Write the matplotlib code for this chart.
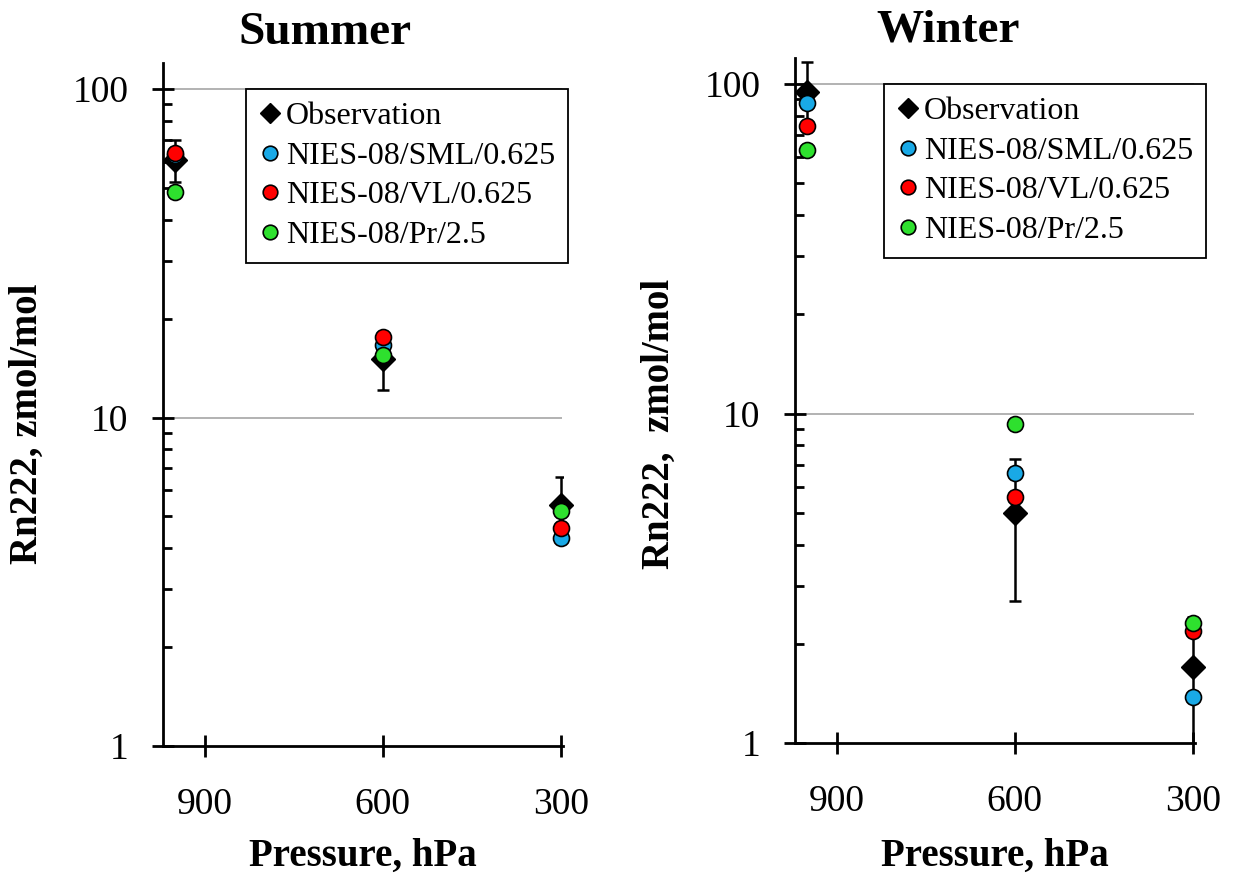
import matplotlib
matplotlib.use("Agg")
import matplotlib.pyplot as plt
from matplotlib.ticker import LogLocator, FixedLocator, NullFormatter, FixedFormatter
from matplotlib.lines import Line2D
import numpy as np

plt.rcParams['font.family'] = ['Liberation Serif', 'DejaVu Serif']

# ---- data ----
pressure = [950, 600, 300]
pressure_ticks = [900, 600, 300]

summer_obs = [61, 15.1, 5.4]
summer_obs_err = [9, 3.0, 1.2]
summer_sml = [63, 16.6, 4.3]
summer_vl = [64, 17.6, 4.6]
summer_pr = [48.6, 15.5, 5.2]

winter_obs = [94.6, 5.0, 1.7]
winter_obs_err = [22, 2.3, 0.72]
winter_sml = [87.5, 6.6, 1.38]
winter_vl = [74.6, 5.6, 2.19]
winter_pr = [63, 9.3, 2.31]

series_labels = ["Observation", "NIES-08/SML/0.625", "NIES-08/VL/0.625", "NIES-08/Pr/2.5"]
colors = {"sml": "#19a9e6", "vl": "#ff0000", "pr": "#2ee02e"}

fig = plt.figure(figsize=(12.4, 8.75), dpi=100)

W, H = 1240, 875


def make_axes(px_left, px_right, px_top, px_bottom):
    return fig.add_axes([px_left / W, 1 - px_bottom / H,
                         (px_right - px_left) / W, (px_bottom - px_top) / H])


def draw(ax, obs, err, sml, vl, pr, ylabel, legend_xy, xlabel_y, ylabel_xy):
    ax.set_yscale('log')
    ax.set_ylim(1, 120)
    ax.set_xlim(970, 296)
    ax.hlines([10, 100], 970, 297, color='#a6a6a6', lw=1.2, zorder=0)
    ax.errorbar(pressure, obs, yerr=err, fmt='none', ecolor='black',
                elinewidth=1.8, capsize=4.5, capthick=1.8, zorder=2)
    ax.plot(pressure, obs, 'D', ms=12.5, color='black', zorder=2.5, clip_on=False)
    ax.plot(pressure, sml, 'o', ms=11.5, mfc=colors['sml'], mec='black', mew=1.2,
            zorder=3, clip_on=False)
    ax.plot(pressure, vl, 'o', ms=11.5, mfc=colors['vl'], mec='black', mew=1.2,
            zorder=4, clip_on=False)
    ax.plot(pressure, pr, 'o', ms=11.5, mfc=colors['pr'], mec='black', mew=1.2,
            zorder=5, clip_on=False)

    for s in ('top', 'right'):
        ax.spines[s].set_visible(False)
    for s in ('left', 'bottom'):
        ax.spines[s].set_linewidth(2)

    ax.xaxis.set_major_locator(FixedLocator(pressure_ticks))
    ax.xaxis.set_major_formatter(FixedFormatter([str(p) for p in pressure_ticks]))
    ax.yaxis.set_major_locator(FixedLocator([1, 10, 100]))
    ax.yaxis.set_major_formatter(FixedFormatter(['1', '10', '100']))
    ax.yaxis.set_minor_locator(LogLocator(base=10, subs=np.arange(2, 10)))
    ax.yaxis.set_minor_formatter(NullFormatter())
    ax.tick_params(axis='both', which='major', direction='inout', length=16,
                   width=2, labelsize=27, color='black')
    ax.tick_params(axis='x', which='major', pad=22)
    ax.tick_params(axis='y', which='major', pad=17)
    ax.tick_params(axis='y', which='minor', direction='in', length=6.5, width=2)
    ax.tick_params(axis='x', which='minor', bottom=False)

    ax.set_xlabel("Pressure, hPa", fontsize=28, fontweight='bold')
    ax.xaxis.set_label_coords(0.5, xlabel_y)
    ax.set_ylabel(ylabel, fontsize=28, fontweight='bold')
    ax.yaxis.set_label_coords(*ylabel_xy)

    handles = [
        Line2D([], [], ls='none', marker='D', ms=10, color='black'),
        Line2D([], [], ls='none', marker='o', ms=10.5, mfc=colors['sml'], mec='black', mew=1.2),
        Line2D([], [], ls='none', marker='o', ms=10.5, mfc=colors['vl'], mec='black', mew=1.2),
        Line2D([], [], ls='none', marker='o', ms=10.5, mfc=colors['pr'], mec='black', mew=1.2),
    ]
    leg = ax.legend(handles, series_labels, loc='upper left', bbox_to_anchor=legend_xy,
                    bbox_transform=fig.transFigure, borderaxespad=0,
                    fontsize=23, frameon=True, fancybox=False, framealpha=1,
                    edgecolor='black', handlelength=0.7, handletextpad=0.15,
                    labelspacing=0.32, borderpad=0.4, numpoints=1)
    leg.get_frame().set_linewidth(1.3)
    leg.set_zorder(10)


ax1 = make_axes(163, 563, 63, 746)
draw(ax1, summer_obs, summer_obs_err, summer_sml, summer_vl, summer_pr,
     "Rn222, zmol/mol", (246 / W, 1 - 89 / H), -0.1347, (-0.2925, 0.471))

ax2 = make_axes(795, 1195, 58, 743)
draw(ax2, winter_obs, winter_obs_err, winter_sml, winter_vl, winter_pr,
     "Rn222,  zmol/mol", (884 / W, 1 - 84 / H), -0.1387, (-0.2925, 0.466))

fig.text(325 / W, 1 - 44 / H, "Summer", ha='center', va='baseline',
         fontsize=34, fontweight='bold')
fig.text(948 / W, 1 - 42 / H, "Winter", ha='center', va='baseline',
         fontsize=34, fontweight='bold')

fig.savefig("out.png", dpi=100)
